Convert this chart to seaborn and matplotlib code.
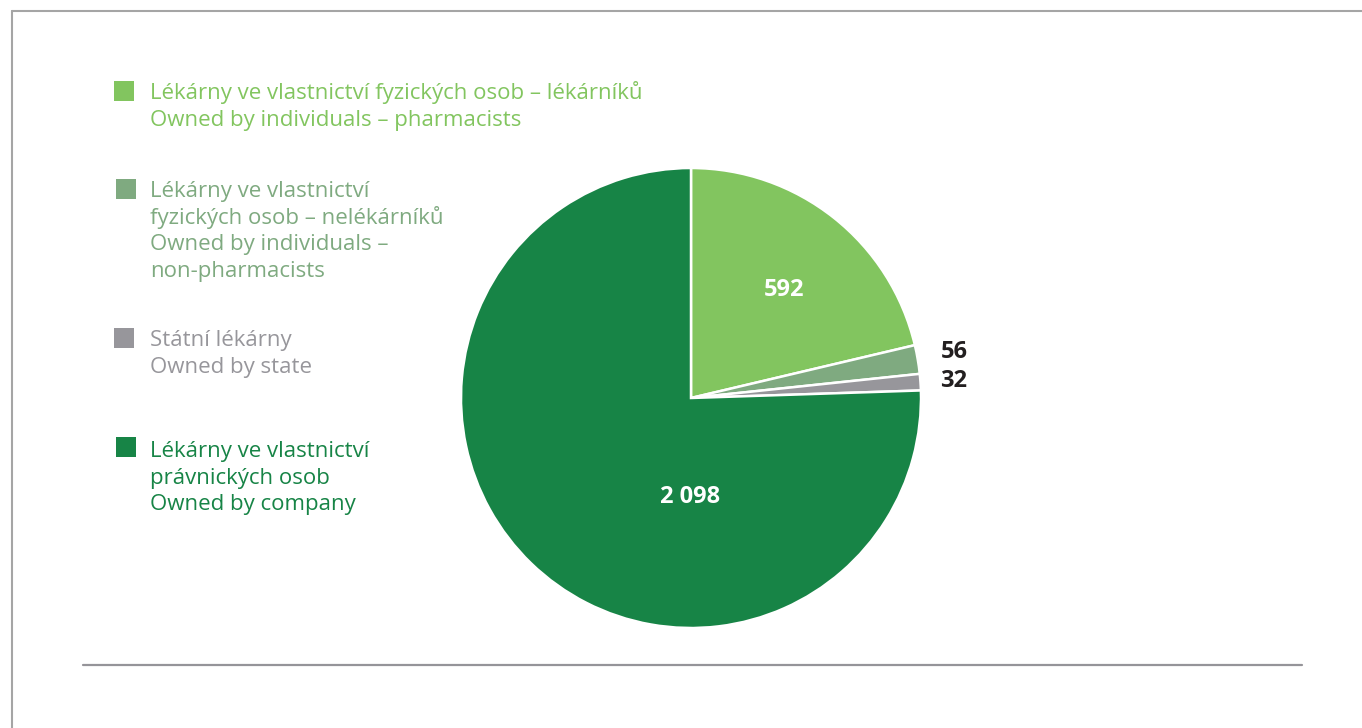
import matplotlib
matplotlib.use("Agg")
import matplotlib.pyplot as plt
from matplotlib.patches import Rectangle
from matplotlib.lines import Line2D
import seaborn as sns

sns.set_theme(style="white")
plt.rcParams['font.family'] = ['Open Sans', 'DejaVu Sans']

# ---- data ----
categories = [
    "Lékárny ve vlastnictví fyzických osob – lékárníků\nOwned by individuals – pharmacists",
    "Lékárny ve vlastnictví\nfyzických osob – nelékárníků\nOwned by individuals –\nnon-pharmacists",
    "Státní lékárny\nOwned by state",
    "Lékárny ve vlastnictví\nprávnických osob\nOwned by company",
]
values = [592, 56, 32, 2098]
value_labels = ["592", "56", "32", "2 098"]
colors = ["#82C55F", "#7FAA80", "#97969B", "#178446"]

W, H = 1362, 728
fig = plt.figure(figsize=(W / 100, H / 100), dpi=100)
fig.patch.set_facecolor("white")

def fx(px):
    return px / W

def fy(py):
    return 1 - py / H

# frame lines
fig.add_artist(Line2D([fx(12), fx(12)], [fy(11), fy(728)], color="#A5A5A5", lw=1.5))
fig.add_artist(Line2D([fx(12), fx(1362)], [fy(11), fy(11)], color="#A5A5A5", lw=1.5))
fig.add_artist(Line2D([fx(83), fx(1302)], [fy(665), fy(665)], color="#959499", lw=1.6))

# pie axes
cx, cy, r = 691, 398, 230
ax = fig.add_axes([fx(cx - r), fy(cy + r), 2 * r / W, 2 * r / H])
wedges, _ = ax.pie(values, colors=colors, startangle=90, counterclock=False,
                   radius=1, wedgeprops=dict(edgecolor="white", linewidth=1.8))
ax.set_xlim(-1, 1)
ax.set_ylim(-1, 1)
ax.set_aspect("auto")
ax.axis("off")

def dpos(px, py):
    return ((px - cx) / r, (cy - py) / r)

label_pos = [dpos(784, 290), dpos(954, 352), dpos(954, 381), dpos(690, 497)]
label_col = ["white", "#231F20", "#231F20", "white"]
for (x, y), t, c in zip(label_pos, value_labels, label_col):
    ax.text(x, y, t, ha="center", va="center", fontsize=17, fontweight="bold",
            color=c, family=["Open Sans", "DejaVu Sans"], clip_on=False)

# legend
legend_tops = [81, 179, 328, 437]
legend_sq_x = [114, 116, 114, 116]
first_baselines = [99, 197, 346, 457]
line_step = 26.7
text_col = ["#82C55F", "#7FAA80", "#97969B", "#178446"]
for cat, col, tcol, top, sx, bl in zip(categories, colors, text_col, legend_tops,
                                       legend_sq_x, first_baselines):
    fig.add_artist(Rectangle((fx(sx), fy(top + 20)), 20 / W, 20 / H,
                             transform=fig.transFigure, facecolor=col, edgecolor="none"))
    for i, line in enumerate(cat.split("\n")):
        fig.text(fx(150), fy(bl + i * line_step), line, ha="left", va="baseline",
                 color=tcol, fontsize=16)

fig.savefig("out.png", dpi=100, facecolor="white")
